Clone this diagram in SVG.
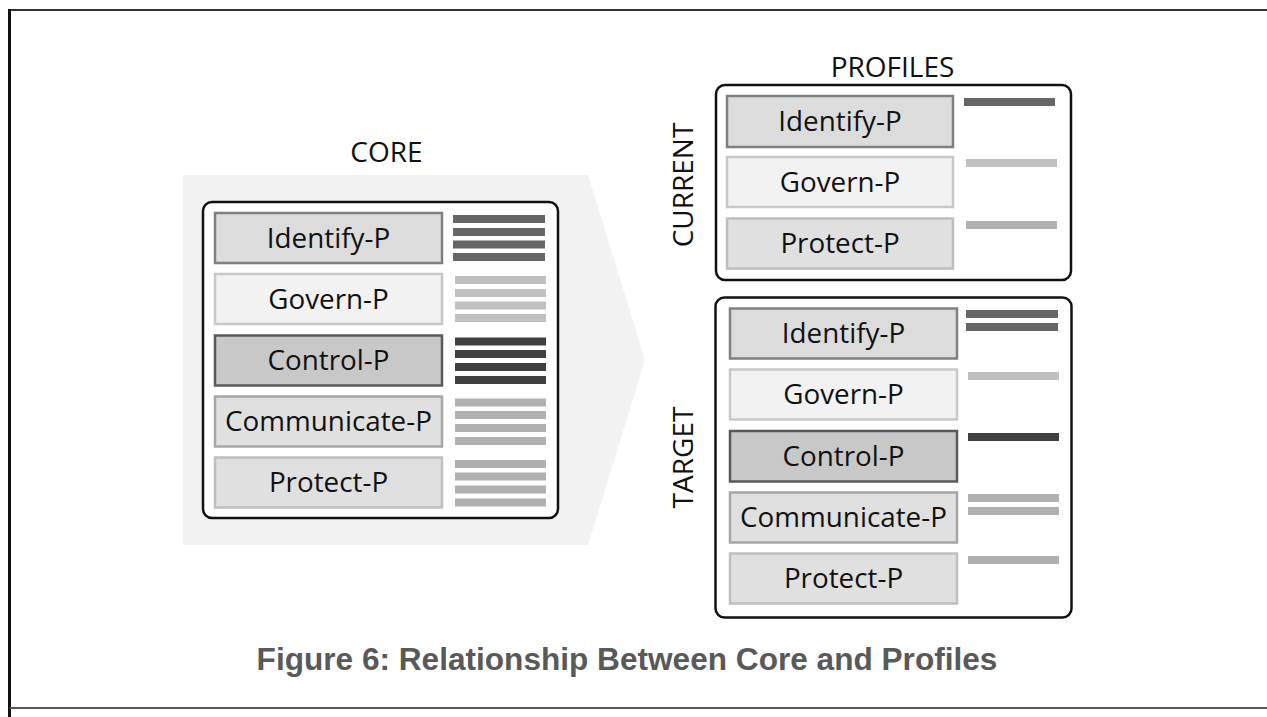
<svg xmlns="http://www.w3.org/2000/svg" width="1267" height="717" viewBox="0 0 1267 717">
<style>
.lbl{font-family:"Open Sans","Noto Sans","Liberation Sans",sans-serif;font-size:27.8px;fill:#111111;text-anchor:middle}
.hdr{font-family:"Open Sans","Noto Sans","Liberation Sans",sans-serif;font-size:28px;fill:#111111;text-anchor:middle}
.cap{font-family:"Liberation Sans",Arial,sans-serif;font-weight:bold;font-size:31.6px;fill:#595959;text-anchor:middle}
.frame{fill:#ffffff;stroke:#111111;stroke-width:2.5}
.idf{fill:#dcdcdc;stroke:#808080;stroke-width:2.5}
.gov{fill:#f2f2f2;stroke:#c8c8c8;stroke-width:2.5}
.ctl{fill:#c8c8c8;stroke:#595959;stroke-width:2.5}
.com{fill:#e0e0e0;stroke:#a6a6a6;stroke-width:2.5}
.pro{fill:#e0e0e0;stroke:#bfbfbf;stroke-width:2.5}
.b-idf{fill:#666666}
.b-gov{fill:#c0c0c0}
.b-ctl{fill:#404040}
.b-com{fill:#b0b0b0}
.b-pro{fill:#b0b0b0}
</style>
<rect width="1267" height="717" fill="#ffffff"/>
<g id="border">
<line x1="9.5" y1="10" x2="1267" y2="10" stroke="#333333" stroke-width="2"/>
<line x1="9.5" y1="9" x2="9.5" y2="717" stroke="#111111" stroke-width="3"/>
<line x1="9.5" y1="708" x2="1267" y2="708" stroke="#555555" stroke-width="2"/>
</g>
<g id="core">
<polygon points="183,175 588,175 645,360 588,545 183,545" fill="#f2f2f2"/>
<text class="hdr" x="386.5" y="162">CORE</text>
<rect class="frame" x="203" y="202" width="355" height="316" rx="9"/>
<g id="core-identify">
<rect class="idf" x="215" y="213" width="227" height="50"/>
<text class="lbl" x="328.5" y="247.5">Identify-P</text>
<rect class="b-idf" x="453" y="215" width="92" height="8"/>
<rect class="b-idf" x="453" y="228" width="92" height="8"/>
<rect class="b-idf" x="453" y="240.5" width="92" height="8"/>
<rect class="b-idf" x="453" y="253" width="92" height="8"/>
</g>
<g id="core-govern">
<rect class="gov" x="215" y="274" width="227" height="50"/>
<text class="lbl" x="328.5" y="308.5">Govern-P</text>
<rect class="b-gov" x="455" y="276" width="91" height="8"/>
<rect class="b-gov" x="455" y="289" width="91" height="8"/>
<rect class="b-gov" x="455" y="301.5" width="91" height="8"/>
<rect class="b-gov" x="455" y="314" width="91" height="8"/>
</g>
<g id="core-control">
<rect class="ctl" x="215" y="335.5" width="227" height="50"/>
<text class="lbl" x="328.5" y="370">Control-P</text>
<rect class="b-ctl" x="455" y="337.5" width="91" height="8"/>
<rect class="b-ctl" x="455" y="350" width="91" height="8"/>
<rect class="b-ctl" x="455" y="363" width="91" height="8"/>
<rect class="b-ctl" x="455" y="376" width="91" height="8"/>
</g>
<g id="core-communicate">
<rect class="com" x="215" y="396.5" width="227" height="50"/>
<text class="lbl" x="328.5" y="431">Communicate-P</text>
<rect class="b-com" x="455" y="398.5" width="91" height="8"/>
<rect class="b-com" x="455" y="411" width="91" height="8"/>
<rect class="b-com" x="455" y="424" width="91" height="8"/>
<rect class="b-com" x="455" y="437" width="91" height="8"/>
</g>
<g id="core-protect">
<rect class="pro" x="215" y="457.5" width="227" height="50"/>
<text class="lbl" x="328.5" y="492">Protect-P</text>
<rect class="b-pro" x="455" y="460" width="91" height="8"/>
<rect class="b-pro" x="455" y="472.5" width="91" height="8"/>
<rect class="b-pro" x="455" y="485.5" width="91" height="8"/>
<rect class="b-pro" x="455" y="498.5" width="91" height="8"/>
</g>
</g>
<g id="profiles-title">
<text class="hdr" x="892.5" y="77">PROFILES</text>
</g>
<g id="current">
<rect class="frame" x="716" y="85" width="355" height="195" rx="9"/>
<text class="hdr" font-size="29.5" transform="translate(693,185) rotate(-90)">CURRENT</text>
<g id="cur-identify">
<rect class="idf" x="727" y="96" width="226" height="51"/>
<text class="lbl" x="840" y="131">Identify-P</text>
<rect class="b-idf" x="964" y="98" width="91" height="8"/>
</g>
<g id="cur-govern">
<rect class="gov" x="727" y="157" width="226" height="50"/>
<text class="lbl" x="840" y="191.5">Govern-P</text>
<rect class="b-gov" x="966" y="159" width="91" height="8"/>
</g>
<g id="cur-protect">
<rect class="pro" x="727" y="218.5" width="226" height="50"/>
<text class="lbl" x="840" y="253">Protect-P</text>
<rect class="b-pro" x="966" y="221" width="91" height="8"/>
</g>
</g>
<g id="target">
<rect class="frame" x="715.5" y="297.5" width="356" height="320" rx="9"/>
<text class="hdr" font-size="30" transform="translate(693,457.5) rotate(-90)">TARGET</text>
<g id="tgt-identify">
<rect class="idf" x="730" y="308.5" width="227" height="50"/>
<text class="lbl" x="843.5" y="343">Identify-P</text>
<rect class="b-idf" x="966" y="310" width="92" height="8"/>
<rect class="b-idf" x="966" y="323" width="92" height="8"/>
</g>
<g id="tgt-govern">
<rect class="gov" x="730" y="369.5" width="227" height="50"/>
<text class="lbl" x="843.5" y="404">Govern-P</text>
<rect class="b-gov" x="968" y="372" width="91" height="8"/>
</g>
<g id="tgt-control">
<rect class="ctl" x="730" y="431" width="227" height="50.5"/>
<text class="lbl" x="843.5" y="466">Control-P</text>
<rect class="b-ctl" x="968" y="433" width="91" height="8"/>
</g>
<g id="tgt-communicate">
<rect class="com" x="730" y="492.5" width="227" height="50"/>
<text class="lbl" x="843.5" y="527">Communicate-P</text>
<rect class="b-com" x="968" y="494" width="91" height="8"/>
<rect class="b-com" x="968" y="507" width="91" height="8"/>
</g>
<g id="tgt-protect">
<rect class="pro" x="730" y="553.5" width="227" height="50"/>
<text class="lbl" x="843.5" y="588">Protect-P</text>
<rect class="b-pro" x="968" y="556" width="91" height="8"/>
</g>
</g>
<g id="caption">
<text class="cap" x="627" y="670">Figure 6: Relationship Between Core and Profiles</text>
</g>
<g id="connectors"></g>
</svg>
